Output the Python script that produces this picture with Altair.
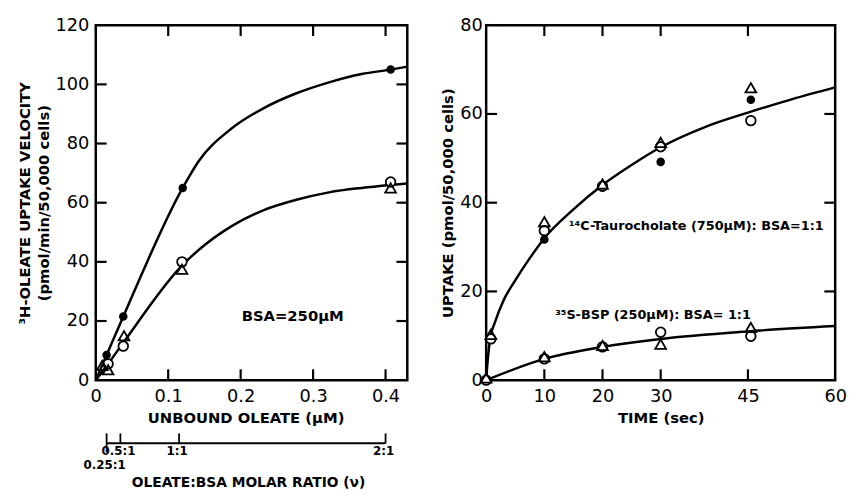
import altair as alt
import pandas as pd

# ---------------- Left panel data ----------------
oleate_filled_x = [0.015, 0.038, 0.12, 0.407]
oleate_filled_y = [8.5, 21.5, 65, 105]
oleate_open_x = [0.017, 0.038, 0.119, 0.407]
oleate_open_y = [5.5, 11.5, 40, 67]
oleate_tri_x = [0.009, 0.017, 0.039, 0.119, 0.407]
oleate_tri_y = [5, 3.5, 15, 37.5, 65]

upper_curve_x = [0, 0.015, 0.038, 0.12, 0.142, 0.187, 0.232, 0.277, 0.322, 0.367, 0.407, 0.43]
upper_curve_y = [0, 8.5, 21.5, 65, 74, 85, 92, 97, 100.7, 103.5, 105, 106]
lower_curve_x = [0, 0.017, 0.039, 0.12, 0.142, 0.187, 0.232, 0.277, 0.322, 0.367, 0.407, 0.43]
lower_curve_y = [0, 5.5, 13, 39, 44, 52, 57.5, 61, 63.5, 65, 66, 66.5]

left_xticks = [0, 0.1, 0.2, 0.3, 0.4]
left_yticks = [0, 20, 40, 60, 80, 100, 120]
left_inner_xticks = [0.1, 0.2, 0.3, 0.4]
left_inner_yticks = [20, 40, 60, 80, 100]

ratio_pos = [0.015, 0.034, 0.115, 0.40]
ratio_labels = ["0.25:1", "0.5:1", "1:1", "2:1"]

# ---------------- Right panel data ----------------
tauro_filled_t = [0, 10, 20, 30, 45.5]
tauro_filled_y = [0, 31.7, 43.5, 49.2, 63.2]
tauro_open_t = [0.8, 10, 20, 30, 45.5]
tauro_open_y = [9.3, 33.7, 43.7, 52.6, 58.5]
tauro_tri_t = [0.8, 10, 20, 30, 45.5]
tauro_tri_y = [10.3, 35.7, 44.2, 53.6, 65.9]

bsp_open_t = [0, 10, 20, 30, 45.5]
bsp_open_y = [0, 4.8, 7.5, 10.8, 9.9]
bsp_tri_t = [0, 10, 20, 30, 45.5]
bsp_tri_y = [0.5, 5.3, 7.8, 8.1, 11.9]

tauro_curve_t = [0, 0.3, 0.7, 1.5, 3, 5, 7.5, 10, 15, 20, 25, 30, 37.5, 45, 52.5, 60]
tauro_curve_y = [0, 5, 9.5, 13, 18, 22.5, 27.5, 32, 38.5, 44, 48.5, 52.5, 57, 60.3, 63.3, 66]
bsp_curve_t = [0, 10, 20, 30, 45, 60]
bsp_curve_y = [0, 4.8, 7.5, 9.3, 11, 12.2]

right_xticks = [0, 10, 20, 30, 45, 60]
right_yticks = [0, 20, 40, 60, 80]
right_inner_xticks = [10, 20, 30, 45]
right_inner_yticks = [20, 40, 60]

FONT = "DejaVu Sans"
LW, LH = 316, 360
RW, RH = 354, 360
TICK = 11


def df(xs, ys, name=None):
    d = pd.DataFrame({"x": xs, "y": ys})
    if name is not None:
        d["s"] = name
    return d


def make_panel(W, H, xdom, ydom, xaxis, yaxis, curves, filled, opens, tris,
               inner_x, inner_y):
    X = lambda: alt.X("x:Q", scale=alt.Scale(domain=xdom, nice=False, zero=False), axis=xaxis)
    Y = lambda: alt.Y("y:Q", scale=alt.Scale(domain=ydom, nice=False, zero=False), axis=yaxis)
    layers = []
    layers.append(alt.Chart(curves).mark_line(interpolate="monotone", color="black",
                                              strokeWidth=2.5).encode(x=X(), y=Y(), detail="s:N"))
    ix = pd.DataFrame({"x": inner_x})
    iy = pd.DataFrame({"y": inner_y})
    rule = dict(color="black", strokeWidth=2.2)
    layers.append(alt.Chart(ix).mark_rule(**rule).encode(x=X(), y=alt.value(H), y2=alt.value(H - TICK)))
    layers.append(alt.Chart(ix).mark_rule(**rule).encode(x=X(), y=alt.value(0), y2=alt.value(TICK)))
    layers.append(alt.Chart(iy).mark_rule(**rule).encode(y=Y(), x=alt.value(0), x2=alt.value(TICK)))
    layers.append(alt.Chart(iy).mark_rule(**rule).encode(y=Y(), x=alt.value(W), x2=alt.value(W - TICK)))
    if filled is not None:
        layers.append(alt.Chart(filled).mark_point(shape="circle", filled=True, size=75,
                                                   color="black", opacity=1).encode(x=X(), y=Y()))
    layers.append(alt.Chart(opens).mark_point(shape="circle", filled=True, size=95, fill="white",
                                              stroke="black", strokeWidth=1.8, opacity=1).encode(x=X(), y=Y()))
    layers.append(alt.Chart(tris).mark_point(shape="triangle-up", filled=True, size=120, fill="white",
                                             fillOpacity=0, stroke="black", strokeWidth=1.8,
                                             opacity=1).encode(x=X(), y=Y()))
    return layers, X, Y


# ---------------- Left panel ----------------
left_x_axis = alt.Axis(values=left_xticks, format=".1~f", title="UNBOUND OLEATE (μM)",
                       labelPadding=8, titlePadding=5, titleX=152, ticks=False)
left_y_axis = alt.Axis(values=left_yticks, format="d",
                       title=["³H-OLEATE UPTAKE VELOCITY", "(pmol/min/50,000 cells)"],
                       labelPadding=7, titlePadding=4, titleLineHeight=19, ticks=False)

left_curves = pd.concat([df(upper_curve_x, upper_curve_y, "a"), df(lower_curve_x, lower_curve_y, "b")])
left_layers, LX, LY = make_panel(
    LW, LH, [0, 0.43], [0, 120], left_x_axis, left_y_axis, left_curves,
    df(oleate_filled_x, oleate_filled_y), df(oleate_open_x, oleate_open_y),
    df(oleate_tri_x, oleate_tri_y), left_inner_xticks, left_inner_yticks)

left_layers.append(alt.Chart(pd.DataFrame({"a": [0]})).mark_text(
    text="BSA=250μM", font=FONT, fontSize=15, fontWeight="bold", align="left",
    baseline="middle", color="black").encode(x=alt.value(148), y=alt.value(295)))

# secondary ratio axis below the left panel
ratio_df = pd.DataFrame({"x": ratio_pos, "lab": ratio_labels})
line_df = pd.DataFrame({"x": [ratio_pos[0]], "x2": [ratio_pos[-1]]})
RY = 424
left_layers.append(alt.Chart(line_df).mark_rule(color="black", strokeWidth=1.8).encode(
    x=LX(), x2="x2:Q", y=alt.value(RY)))
left_layers.append(alt.Chart(ratio_df).mark_rule(color="black", strokeWidth=1.8).encode(
    x=LX(), y=alt.value(RY - 10), y2=alt.value(RY)))
left_layers.append(alt.Chart(ratio_df.iloc[:1]).mark_rule(color="black", strokeWidth=1.8).encode(
    x=LX(), y=alt.value(RY), y2=alt.value(RY + 9)))
left_layers.append(alt.Chart(ratio_df.iloc[1:]).mark_text(
    font=FONT, fontSize=12, fontWeight="bold", baseline="top", align="center", dx=-2,
    color="black").encode(x=LX(), y=alt.value(RY + 3), text="lab:N"))
left_layers.append(alt.Chart(ratio_df.iloc[:1]).mark_text(
    font=FONT, fontSize=12, fontWeight="bold", baseline="top", align="center", dx=-2,
    color="black").encode(x=LX(), y=alt.value(RY + 17), text="lab:N"))
left_layers.append(alt.Chart(pd.DataFrame({"a": [0]})).mark_text(
    text="OLEATE:BSA MOLAR RATIO (ν)", font=FONT, fontSize=14, fontWeight="bold",
    align="center", baseline="middle", color="black").encode(x=alt.value(155), y=alt.value(464)))

left = alt.layer(*left_layers).properties(width=LW, height=LH)

# ---------------- Right panel ----------------
right_x_axis = alt.Axis(values=right_xticks, format="d", title="TIME (sec)",
                        labelPadding=8, titlePadding=5, ticks=False)
right_y_axis = alt.Axis(values=right_yticks, format="d", title="UPTAKE (pmol/50,000 cells)",
                        labelPadding=4, titlePadding=4, ticks=False)

right_curves = pd.concat([df(tauro_curve_t, tauro_curve_y, "t"), df(bsp_curve_t, bsp_curve_y, "b")])
right_open = pd.concat([df(tauro_open_t, tauro_open_y), df(bsp_open_t, bsp_open_y)])
right_tri = pd.concat([df(tauro_tri_t, tauro_tri_y), df(bsp_tri_t, bsp_tri_y)])
right_layers, RX, RYs = make_panel(
    RW, RH, [0, 60], [0, 80], right_x_axis, right_y_axis, right_curves,
    df(tauro_filled_t, tauro_filled_y), right_open, right_tri,
    right_inner_xticks, right_inner_yticks)

right_layers.append(alt.Chart(pd.DataFrame({"a": [0]})).mark_text(
    text="¹⁴C-Taurocholate (750μM): BSA=1:1", font=FONT, fontSize=13, fontWeight="bold",
    align="left", baseline="middle", color="black").encode(x=alt.value(84), y=alt.value(204)))
right_layers.append(alt.Chart(pd.DataFrame({"a": [0]})).mark_text(
    text="³⁵S-BSP (250μM): BSA= 1:1", font=FONT, fontSize=13, fontWeight="bold",
    align="left", baseline="middle", color="black").encode(x=alt.value(70), y=alt.value(294)))

right = alt.layer(*right_layers).properties(width=RW, height=RH)

chart = alt.hconcat(left, right, spacing=25).properties(
    padding={"left": 8, "top": 3, "right": 0, "bottom": 0},
    background="white"
).configure_view(stroke="black", strokeWidth=2.5).configure_axis(
    labelFont=FONT, labelFontSize=18, labelColor="black", labelFlush=False,
    titleFont=FONT, titleFontSize=15, titleFontWeight="bold", titleColor="black",
    domain=False, ticks=False, tickSize=0, grid=False
)

chart.save("out.html", embed_options={"renderer": "svg", "actions": False})
